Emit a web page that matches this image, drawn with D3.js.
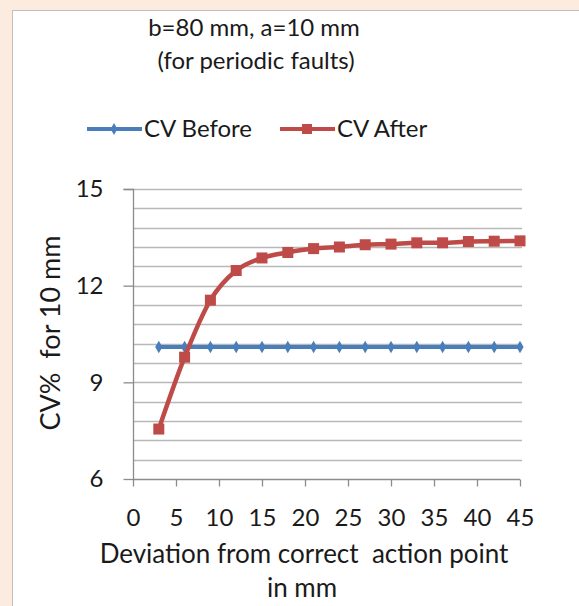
<!DOCTYPE html>
<html>
<head>
<meta charset="utf-8">
<script src="https://cdn.jsdelivr.net/npm/d3@7"></script>
<style>
  body { margin: 0; background: #fcece0; }
  svg { display: block; }
  text { font-family: Lato, "Open Sans", sans-serif; fill: #1a1a1a; white-space: pre; }
</style>
</head>
<body>
<div id="chart"></div>
<script>
// deviation values (mm)
var deviation = [3, 6, 9, 12, 15, 18, 21, 24, 27, 30, 33, 36, 39, 42, 45];
var cvBefore = [10.1, 10.1, 10.1, 10.1, 10.1, 10.1, 10.1, 10.1, 10.1, 10.1, 10.1, 10.1, 10.1, 10.1, 10.1];
var cvAfter = [7.55, 9.78, 11.55, 12.47, 12.86, 13.03, 13.15, 13.2, 13.27, 13.29, 13.33, 13.33, 13.37, 13.38, 13.39];
var xTicks = [0, 5, 10, 15, 20, 25, 30, 35, 40, 45];
var yTicks = [6, 9, 12, 15];
var seriesNames = ["CV Before", "CV After"];

var width = 579, height = 606;
var margin = { left: 133, right: 59, top: 189, bottom: 127 };

var svg = d3.select("#chart").append("svg")
    .attr("width", width)
    .attr("height", height);

// white chart box
svg.append("rect")
    .attr("x", 12.5).attr("y", 10.5)
    .attr("width", width).attr("height", height)
    .attr("fill", "#fff")
    .attr("stroke", "#c4beb9");

var x = d3.scaleLinear().domain([0, 45]).range([margin.left, width - margin.right]);
var y = d3.scaleLinear().domain([6, 15]).range([height - margin.bottom, margin.top]);

// gridlines every 0.6
var grid = d3.range(1, 16).map(function(i) { return 6 + i * 0.6; });
svg.append("g").selectAll("line")
    .data(grid)
    .enter().append("line")
    .attr("x1", x(0)).attr("x2", x(45) + 2)
    .attr("y1", function(d) { return Math.round(y(d)) + 0.5; })
    .attr("y2", function(d) { return Math.round(y(d)) + 0.5; })
    .attr("stroke", "#b8b8b8")
    .attr("stroke-width", 1.3);

// axes
var yAxis = svg.append("g")
    .attr("transform", "translate(" + (x(0) + 0.5) + ",0)")
    .call(d3.axisLeft(y).tickValues(yTicks).tickSize(10).tickPadding(20).tickFormat(d3.format("d")));
var xAxis = svg.append("g")
    .attr("transform", "translate(0," + (y(6) + 0.5) + ")")
    .call(d3.axisBottom(x).tickValues(xTicks).tickSize(7).tickPadding(22));

[xAxis, yAxis].forEach(function(a) {
    a.attr("font-family", null).attr("font-size", null);
    a.select(".domain").attr("stroke", "#8c8c8c").attr("stroke-width", 1.3);
    a.selectAll(".tick line").attr("stroke", "#8c8c8c").attr("stroke-width", 1.3);
    a.selectAll(".tick text").style("font-size", "24px").attr("fill", "#1a1a1a");
});
yAxis.select(".domain").attr("d", "M-10," + (y(15) + 0.5) + "H0V" + y(6));
xAxis.select(".domain").attr("d", "M" + x(0) + ",0H" + x(45));

// lines
var line = d3.line()
    .x(function(d) { return x(d[0]); })
    .y(function(d) { return y(d[1]); })
    .curve(d3.curveMonotoneX);

var beforeData = deviation.map(function(d, i) { return [d, cvBefore[i]]; });
var afterData = deviation.map(function(d, i) { return [d, cvAfter[i]]; });

var blue = "#4a7ebb", red = "#be4b48";

svg.append("path").datum(beforeData)
    .attr("d", line).attr("fill", "none")
    .attr("stroke", blue).attr("stroke-width", 4);
svg.append("g").selectAll("path")
    .data(beforeData).enter().append("path")
    .attr("d", d3.symbol().type(d3.symbolDiamond).size(45))
    .attr("transform", function(d) { return "translate(" + x(d[0]) + "," + y(d[1]) + ")"; })
    .attr("fill", blue);

svg.append("path").datum(afterData)
    .attr("d", line).attr("fill", "none")
    .attr("stroke", red).attr("stroke-width", 4.5);
svg.append("g").selectAll("rect")
    .data(afterData).enter().append("rect")
    .attr("x", function(d) { return x(d[0]) - 5.5; })
    .attr("y", function(d) { return y(d[1]) - 5.5; })
    .attr("width", 11).attr("height", 11)
    .attr("fill", red);

// title
svg.append("text").attr("x", 254).attr("y", 36)
    .attr("text-anchor", "middle").style("font-size", "24px")
    .text("b=80 mm, a=10 mm");
svg.append("text").attr("x", 256).attr("y", 69)
    .attr("text-anchor", "middle").style("font-size", "24px")
    .text("(for periodic faults)");

// legend
var legend = svg.append("g");
var legItems = [
    { name: seriesNames[0], color: blue, x0: 87, type: "diamond" },
    { name: seriesNames[1], color: red, x0: 280, type: "square" }
];
legItems.forEach(function(it) {
    var g = legend.append("g");
    g.append("line").attr("x1", it.x0).attr("x2", it.x0 + 55)
        .attr("y1", 129).attr("y2", 129)
        .attr("stroke", it.color).attr("stroke-width", 4);
    if (it.type === "diamond") {
        g.append("path").attr("d", d3.symbol().type(d3.symbolDiamond).size(40))
            .attr("transform", "translate(" + (it.x0 + 27) + ",129)").attr("fill", it.color);
    } else {
        g.append("rect").attr("x", it.x0 + 22).attr("y", 124).attr("width", 10).attr("height", 10)
            .attr("fill", it.color);
    }
    g.append("text").attr("x", it.x0 + 57).attr("y", 137)
        .style("font-size", "24px").text(it.name);
});

// axis titles
svg.append("text").attr("x", 304).attr("y", 563)
    .attr("text-anchor", "middle").style("font-size", "26px")
    .text("Deviation from correct  action point");
svg.append("text").attr("x", 302).attr("y", 597)
    .attr("text-anchor", "middle").style("font-size", "26px")
    .text("in mm");
svg.append("text")
    .attr("transform", "translate(60,333) rotate(-90)")
    .attr("text-anchor", "middle").style("font-size", "27px")
    .text("CV%  for 10 mm");
</script>
</body>
</html>
